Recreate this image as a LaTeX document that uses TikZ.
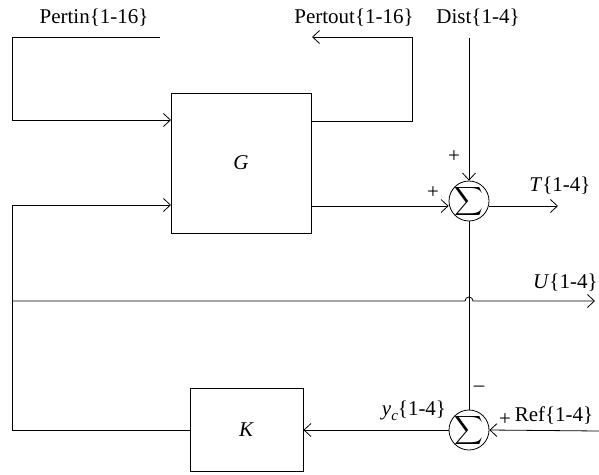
\documentclass[tikz,border=0pt]{standalone}
\usepackage{fontspec}
\usepackage{graphicx}
\setmainfont{Liberation Serif}
\usetikzlibrary{arrows.meta}

\begin{document}
\begin{tikzpicture}[x=1pt, y=-1pt, line width=0.8pt,
  >={Straight Barb[length=7pt,width=13pt,line width=0.8pt]},
  font=\fontsize{21}{24}\selectfont,
  block/.style={draw, inner sep=0pt},
  sumnode/.style={draw, circle, minimum size=40pt, inner sep=-2pt},
  lbl/.style={inner sep=0pt}]
  \useasboundingbox (0,0) rectangle (599,474);
  % ---------------------------------------------------------------- blocks and summing junctions
  \node[block, minimum width=140pt, minimum height=140pt] (G) at (241,163) {\textit{G}};
  \node[block, minimum width=113pt, minimum height=83pt] (K) at (246.5,430) {\textit{K}};
  \node[sumnode] (sumT) at (469,201) {\scalebox{2}{$\displaystyle\sum$}};
  \node[sumnode] (sumY) at (469,430) {\scalebox{2}{$\displaystyle\sum$}};
  % ---------------------------------------------------------------- free ends and corners
  \coordinate (pinA) at (160,37);
  \coordinate (pinB) at (12,37);
  \coordinate (gA) at (171,120);
  \coordinate (gB) at (311,121);
  \coordinate (poutA) at (412,37);
  \coordinate (poutB) at (312,37);
  \coordinate (dist) at (469,38);
  \coordinate (gC) at (311,206);
  \coordinate (tout) at (558,206);
  \coordinate (uA) at (12,301);
  \coordinate (uB) at (595,301);
  \coordinate (fbA) at (12,430);
  \coordinate (gD) at (171,205);
  \coordinate (ref) at (599,431);
  % ---------------------------------------------------------------- perturbations
  \draw[->] (pinA) -- (pinB) |- (gA);
  \draw[->] (gB) -| (poutA) -- (poutB);
  % ---------------------------------------------------------------- upper loop
  \draw[->] (dist) -- (sumT.north);
  \draw[->] (gC) -- (gC -| sumT.west);
  \draw[->] (gC -| sumT.east) -- (tout);
  \draw (sumT.south) -- (sumY.north);
  % the control signal, hopping over the vertical line
  \draw[->] (uA) -- (465,301) arc[start angle=180, end angle=360, radius=4] -- (uB);
  % ---------------------------------------------------------------- lower loop
  \draw[->] (K.west) -- (fbA) |- (gD);
  \draw[->] (sumY.west) -- (K.east);
  \draw[->] (ref) -- (sumY.east);
  % ---------------------------------------------------------------- labels
  \node[lbl] (pinL) at (94,18) {Pertin\{1-16\}};
  \node[lbl] (poutL) at (354,18) {Pertout\{1-16\}};
  \node[lbl] (distL) at (478,18) {Dist\{1-4\}};
  \node[lbl] (plusG) at (433,193) {+};
  \node[lbl] (plusD) at (454,157) {+};
  \node[lbl] (tL) at (560,186) {\textit{T}\{1-4\}};
  \node[lbl, anchor=east] (uL) at (598,283) {\textit{U}\{1-4\}};
  \node[lbl] (ycL) at (414,411) {\textit{y}\raisebox{-0.25em}{\fontsize{15}{15}\selectfont\textit{c}}\{1-4\}};
  \node[lbl] (minusL) at (479,389) {--};
  \node[lbl] (plusR) at (505,420) {+};
  \node[lbl] (refL) at (554,416) {Ref\{1-4\}};
\end{tikzpicture}
\end{document}
